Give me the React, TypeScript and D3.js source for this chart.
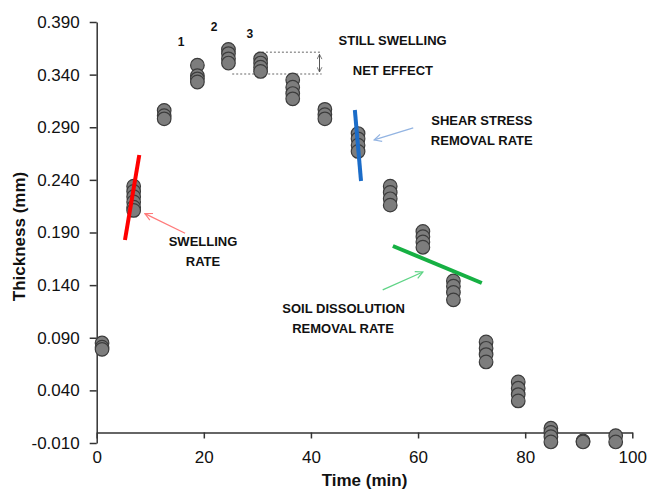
import * as d3 from 'd3'
import { useEffect, useRef } from 'react'

// time of each measurement group (min)
const clusterTimes = [1, 6.9, 12.6, 18.8, 24.6, 30.6, 36.6, 42.6, 48.8, 54.8, 60.9, 66.6, 72.7, 78.7, 84.8, 90.8, 96.9]

// thickness readings (mm) in each group
const clusterValues = [
  [0.085, 0.081, 0.079],
  [0.234, 0.229, 0.224, 0.219, 0.214, 0.211],
  [0.306, 0.301, 0.298],
  [0.349, 0.339, 0.336, 0.333],
  [0.364, 0.36, 0.355, 0.351],
  [0.355, 0.351, 0.347, 0.343],
  [0.335, 0.328, 0.322, 0.317],
  [0.307, 0.302, 0.298],
  [0.284, 0.279, 0.273, 0.267],
  [0.234, 0.228, 0.222, 0.216],
  [0.191, 0.186, 0.181, 0.176],
  [0.144, 0.139, 0.133, 0.126],
  [0.086, 0.08, 0.074, 0.067],
  [0.048, 0.042, 0.036, 0.03],
  [0.004, 0.0, -0.004, -0.009],
  [-0.008, -0.009],
  [-0.003, -0.009],
]

const xTicks = [0, 20, 40, 60, 80, 100]
const yTicks = [-0.01, 0.04, 0.09, 0.14, 0.19, 0.24, 0.29, 0.34, 0.39]

// rate lines and arrows, in data units [time, thickness]
const rateLines = [
  { color: '#ff0000', pts: [[7.95, 0.2636], [5.28, 0.1829]] },
  { color: '#1b6cc8', pts: [[48.2, 0.3064], [49.35, 0.2389]] },
  { color: '#16b043', pts: [[55.3, 0.1772], [71.9, 0.142]] },
]
const pointerArrows = [
  { color: '#ff7b7b', from: [16.5, 0.1893], to: [9.0, 0.208] },
  { color: '#93b4e2', from: [59.1, 0.2893], to: [51.8, 0.2779] },
  { color: '#5fd486', from: [53.4, 0.1354], to: [60.9, 0.1525] },
]
const netEffectBox = { top: 0.3612, bottom: 0.3406, topStart: 30.1, bottomStart: 25.3, end: 42.0, arrowAt: 41.6 }

const labels = [
  { text: '1', t: 15.74, v: 0.3673, size: 12 },
  { text: '2', t: 21.9, v: 0.3815, size: 12 },
  { text: '3', t: 28.6, v: 0.3749, size: 12 },
  { text: 'STILL SWELLING', t: 55.25, v: 0.368, size: 13 },
  { text: 'NET EFFECT', t: 55.3, v: 0.3398, size: 13 },
  { text: 'SHEAR STRESS', t: 71.9, v: 0.2924, size: 13 },
  { text: 'REMOVAL RATE', t: 71.9, v: 0.2734, size: 13 },
  { text: 'SWELLING', t: 19.85, v: 0.1775, size: 13 },
  { text: 'RATE', t: 19.85, v: 0.1578, size: 13 },
  { text: 'SOIL DISSOLUTION', t: 46.1, v: 0.1138, size: 13 },
  { text: 'REMOVAL RATE', t: 46.0, v: 0.0948, size: 13 },
]

const FONT = "'Liberation Sans', Arial, sans-serif"

const App = () => {
  const ref = useRef<SVGSVGElement>(null)

  useEffect(() => {
    const svg = d3.select(ref.current)
    svg.selectAll('*').remove()

    const x = d3.scaleLinear().domain([0, 100]).range([96.7, 632.3])
    const y = d3.scaleLinear().domain([-0.01, 0.39]).range([443, 22])

    const defs = svg.append('defs')
    pointerArrows.forEach((a, i) => {
      defs.append('marker')
        .attr('id', `head-${i}`)
        .attr('viewBox', '0 0 10 10')
        .attr('refX', 9)
        .attr('refY', 5)
        .attr('markerWidth', 7)
        .attr('markerHeight', 7)
        .attr('orient', 'auto')
        .append('path')
        .attr('d', 'M1,1 L9,5 L1,9')
        .attr('fill', 'none')
        .attr('stroke', a.color)
        .attr('stroke-width', 1.3)
    })
    defs.append('marker')
      .attr('id', 'head-gray')
      .attr('viewBox', '0 0 10 10')
      .attr('refX', 9)
      .attr('refY', 5)
      .attr('markerWidth', 6)
      .attr('markerHeight', 6)
      .attr('orient', 'auto-start-reverse')
      .append('path')
      .attr('d', 'M1,1 L9,5 L1,9')
      .attr('fill', 'none')
      .attr('stroke', '#555')
      .attr('stroke-width', 1.3)

    // axes
    const yAxis = svg.append('g')
      .attr('transform', `translate(${x(0)},0)`)
      .call(d3.axisLeft(y).tickValues(yTicks).tickSize(7).tickSizeOuter(0).tickPadding(10)
        .tickFormat(d => (+d).toFixed(3)))
    const xAxis = svg.append('g')
      .attr('transform', `translate(0,${y(0)})`)
      .call(d3.axisBottom(x).tickValues(xTicks).tickSize(6).tickSizeOuter(0).tickPadding(12)
        .tickFormat(d => String(d)))
    ;[yAxis, xAxis].forEach(g => {
      g.selectAll('path, line').attr('stroke', '#333').attr('stroke-width', 1.5)
      g.selectAll('text').attr('font-family', FONT).attr('font-size', 17).attr('fill', '#111')
    })

    svg.append('text')
      .attr('transform', `translate(25,${(y(-0.01) + y(0.39)) / 2 + 4}) rotate(-90)`)
      .attr('text-anchor', 'middle')
      .attr('font-family', FONT).attr('font-size', 17).attr('font-weight', 'bold').attr('fill', '#111')
      .text('Thickness (mm)')
    svg.append('text')
      .attr('x', (x(0) + x(100)) / 2)
      .attr('y', 486)
      .attr('text-anchor', 'middle')
      .attr('font-family', FONT).attr('font-size', 17).attr('font-weight', 'bold').attr('fill', '#111')
      .text('Time (min)')

    // dotted box for the net effect
    const b = netEffectBox
    svg.append('g')
      .attr('stroke', '#9a9a9a').attr('stroke-width', 1.5).attr('stroke-dasharray', '2,2')
      .selectAll('line')
      .data([[b.topStart, b.top], [b.bottomStart, b.bottom]])
      .join('line')
      .attr('x1', d => x(d[0])).attr('x2', x(b.end))
      .attr('y1', d => y(d[1])).attr('y2', d => y(d[1]))
    svg.append('line')
      .attr('x1', x(b.arrowAt)).attr('x2', x(b.arrowAt))
      .attr('y1', y(b.top) + 2).attr('y2', y(b.bottom) - 2)
      .attr('stroke', '#555').attr('stroke-width', 1)
      .attr('marker-start', 'url(#head-gray)')
      .attr('marker-end', 'url(#head-gray)')

    // data points, lower readings drawn on top
    const points = clusterTimes.flatMap((t, i) =>
      [...clusterValues[i]].sort((a, c) => c - a).map(v => ({ t, v })))
    svg.append('g')
      .selectAll('circle')
      .data(points)
      .join('circle')
      .attr('cx', d => x(d.t))
      .attr('cy', d => y(d.v))
      .attr('r', 6.8)
      .attr('fill', '#7d7d7d')
      .attr('stroke', '#3c3c3c')
      .attr('stroke-width', 1.2)

    // rate lines
    const line = d3.line<number[]>().x(d => x(d[0])).y(d => y(d[1]))
    rateLines.forEach(r => {
      svg.append('path')
        .attr('d', line(r.pts))
        .attr('stroke', r.color)
        .attr('stroke-width', 4)
        .attr('fill', 'none')
    })

    // pointer arrows
    pointerArrows.forEach((a, i) => {
      svg.append('line')
        .attr('x1', x(a.from[0])).attr('y1', y(a.from[1]))
        .attr('x2', x(a.to[0])).attr('y2', y(a.to[1]))
        .attr('stroke', a.color)
        .attr('stroke-width', 1.3)
        .attr('marker-end', `url(#head-${i})`)
    })

    // annotation text
    svg.append('g')
      .selectAll('text')
      .data(labels)
      .join('text')
      .attr('x', d => x(d.t))
      .attr('y', d => y(d.v))
      .attr('text-anchor', 'middle')
      .attr('font-family', FONT)
      .attr('font-weight', 'bold')
      .attr('font-size', d => d.size)
      .attr('fill', '#111')
      .text(d => d.text)
  }, [])

  return (
    <svg
      ref={ref}
      width={648}
      height={491}
      style={{ position: 'absolute', left: 0, top: 0, background: '#fff' }}
    />
  )
}

export default App
